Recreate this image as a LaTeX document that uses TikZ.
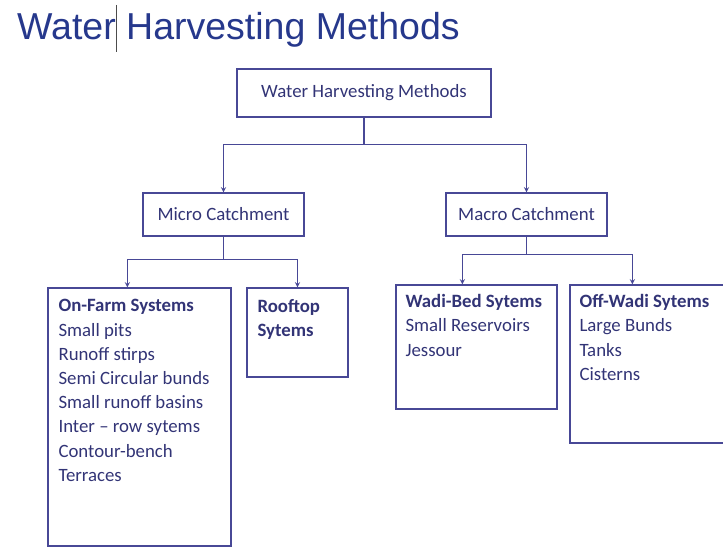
\documentclass[tikz,border=0pt]{standalone}
\usepackage{fontspec}
\setmainfont{Carlito}
\newfontfamily\headfont{Liberation Sans}
\usetikzlibrary{arrows}
\definecolor{boxline}{RGB}{72,72,150}
\definecolor{boxtext}{RGB}{50,52,118}
\definecolor{headblue}{RGB}{38,56,140}
\tikzstyle{wbox}=[rectangle, draw=boxline, line width=1.3pt, text=boxtext, font=\fontsize{18.8}{24.2}\selectfont, inner sep=0pt]
\tikzstyle{wlist}=[text=boxtext, align=left, anchor=north west, inner sep=0pt, font=\fontsize{18.8}{24.2}\selectfont]
\tikzstyle{wlink}=[draw=boxline, line width=1.3pt]
\tikzstyle{warrow}=[wlink, -stealth]

\begin{document}
\begin{tikzpicture}[x=1pt,y=-1pt]
  \clip (0,0) rectangle (723,548);
  \node[text=headblue, font=\headfont\fontsize{37.5}{40}\selectfont, anchor=base west, inner sep=0pt] (title) at (17,40) {Water Harvesting Methods};
  \draw[gray!60!black, line width=0.8pt] (116,5) -- (116,52);

  \node[wbox, minimum width=254pt, minimum height=48pt] (methods) at (364,93) {Water Harvesting Methods};
  \node[wbox, minimum width=161pt, minimum height=43pt] (micro) at (223.5,214.5) {Micro Catchment};
  \node[wbox, minimum width=161pt, minimum height=43pt] (macro) at (526.5,214.5) {Macro Catchment};

  \node[wbox, minimum width=183pt, minimum height=258pt] (onfarm) at (139.5,417) {};
  \node[wbox, minimum width=101pt, minimum height=89pt] (rooftop) at (297.5,332.5) {};
  \node[wbox, minimum width=161pt, minimum height=124pt] (wadi) at (476.5,347) {};
  \node[wbox, minimum width=160pt, minimum height=158pt] (offwadi) at (650,364) {};

  \node[wlist] (onfarmtxt) at ([xshift=11pt,yshift=-12pt]onfarm.north west) {\textbf{On-Farm Systems}\\Small pits\\Runoff stirps\\Semi Circular bunds\\Small runoff basins\\Inter -- row sytems\\Contour-bench\\Terraces};
  \node[wlist] (rooftoptxt) at ([xshift=11pt,yshift=-12pt]rooftop.north west) {\textbf{Rooftop}\\\textbf{Sytems}};
  \node[wlist] (wadixt) at ([xshift=10pt,yshift=-10pt]wadi.north west) {\textbf{Wadi-Bed Sytems}\\Small Reservoirs\\Jessour};
  \node[wlist] (offwaditxt) at ([xshift=10pt,yshift=-10pt]offwadi.north west) {\textbf{Off-Wadi Sytems}\\Large Bunds\\Tanks\\Cisterns};

  %\tikzstyle{wlink}=[draw=boxline]
  \draw[wlink] (methods.south) -- ++(0,27) coordinate (split1);
  \draw[warrow] (split1) -| (micro.north);
  \draw[warrow] (split1) -| (macro.north);

  \draw[wlink] (micro.south) -- ++(0,23) coordinate (split2);
  \draw[warrow] (split2) -| ([xshift=80pt]onfarm.north west);
  \draw[warrow] (split2) -| (rooftop.north);

  \draw[wlink] (macro.south) -- ++(0,18) coordinate (split3);
  \draw[warrow] (split3) -| ([xshift=67pt]wadi.north west);
  \draw[warrow] (split3) -| ([xshift=63pt]offwadi.north west);
\end{tikzpicture}
\end{document}
